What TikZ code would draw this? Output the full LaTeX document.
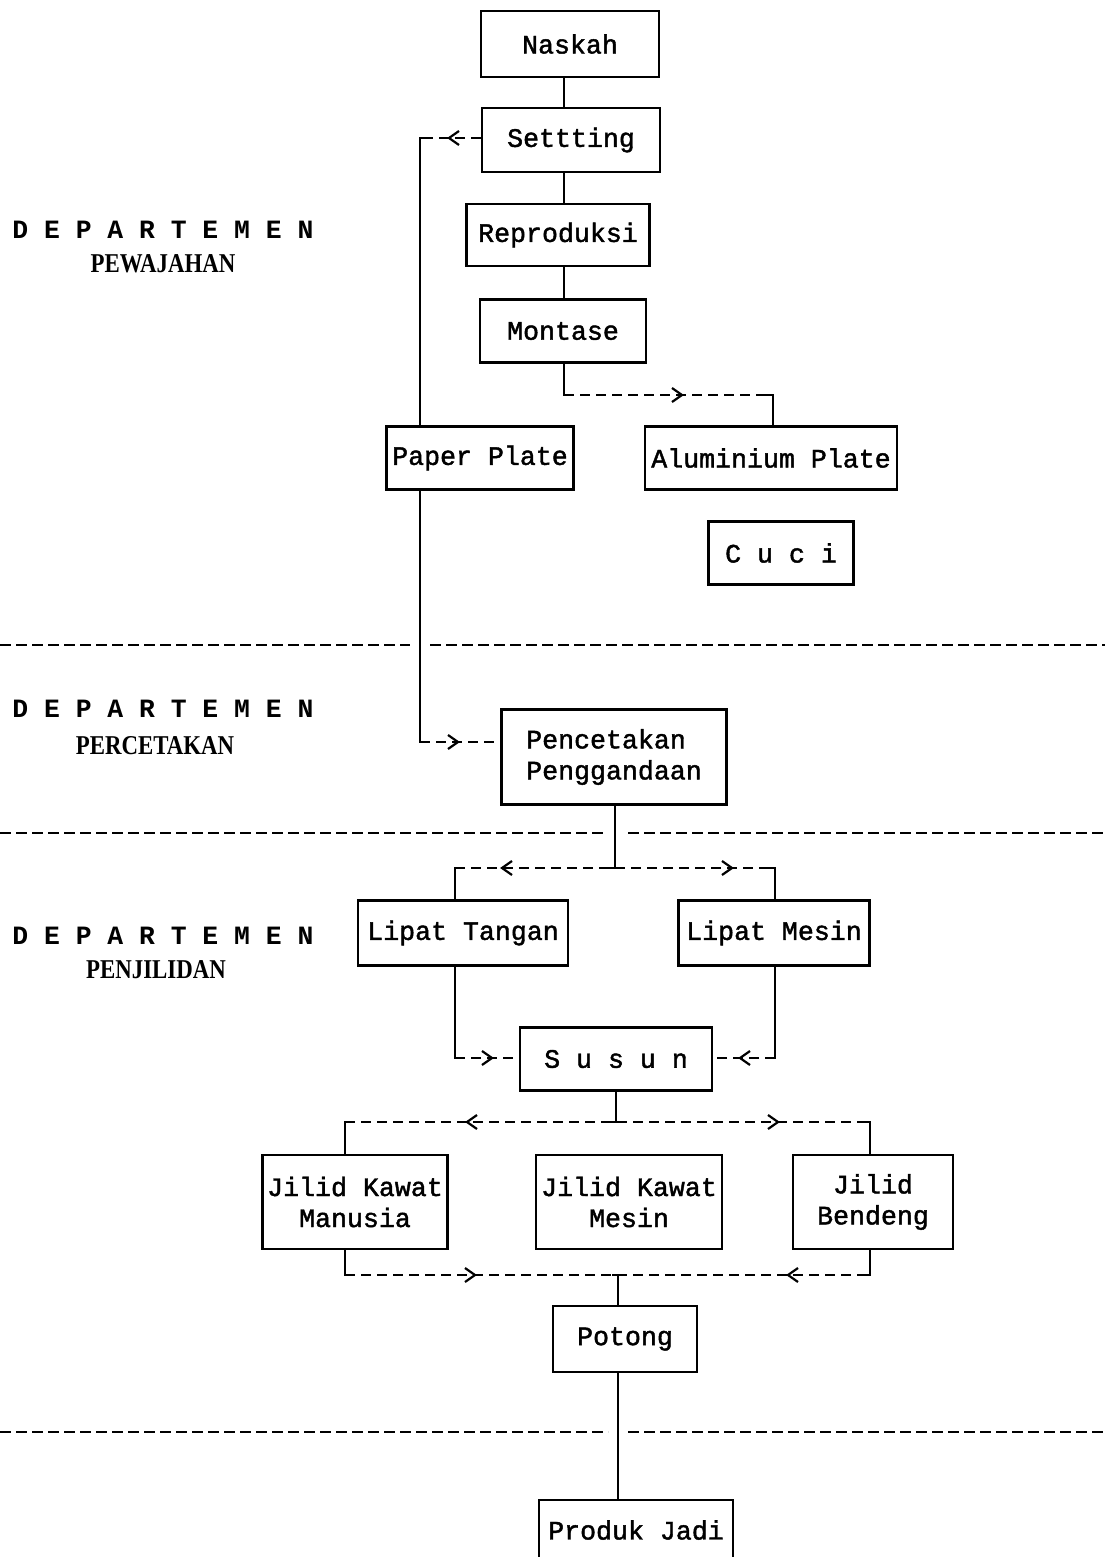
\documentclass[tikz,border=0pt]{standalone}
\usepackage{fontspec}
\newfontfamily\twfont{Liberation Mono}[FakeBold=1.6]
\newfontfamily\dpmono{Liberation Mono}
\newfontfamily\deptfont{Liberation Serif}[FakeStretch=0.84]
\newcommand\bxfont{\twfont\fontsize{13.3}{15.5}\selectfont}
\newcommand\dpAfont{\dpmono\bfseries\fontsize{13.2}{15.5}\selectfont}
\newcommand\dpBfont{\deptfont\bfseries\fontsize{13.6}{15.5}\selectfont}
\begin{document}
\begin{tikzpicture}[x=0.5pt,y=-0.5pt,
  box/.style={draw, line width=1.1pt, inner sep=0pt, align=center, font=\bxfont},
  conn/.style={line width=1pt},
  dconn/.style={line width=1pt, dash pattern=on 5pt off 3pt},
  sepline/.style={line width=1pt, dash pattern=on 5.5pt off 2.5pt},
  chevR/.pic={\draw[line width=1.1pt, solid] (-5,-7) -- (5,0) -- (-5,7);},
  chevL/.pic={\draw[line width=1.1pt, solid] (5,-7) -- (-5,0) -- (5,7);}
]
\useasboundingbox (0,0) rectangle (1105,1557);
\clip (0,0) rectangle (1105,1557);

% department labels
\node[anchor=west, font=\dpAfont, inner sep=0pt] (d1a) at (12,230) {D E P A R T E M E N};
\node[font=\dpBfont, inner sep=0pt] (d1b) at (163,264) {PEWAJAHAN};
\node[anchor=west, font=\dpAfont, inner sep=0pt] (d2a) at (12,709) {D E P A R T E M E N};
\node[font=\dpBfont, inner sep=0pt] (d2b) at (155,746) {PERCETAKAN};
\node[anchor=west, font=\dpAfont, inner sep=0pt] (d3a) at (12,936) {D E P A R T E M E N};
\node[font=\dpBfont, inner sep=0pt] (d3b) at (156,970) {PENJILIDAN};

% boxes
\node[box, minimum width=89pt, minimum height=33pt] (naskah) at (570,44) {Naskah};
\node[box, minimum width=89pt, minimum height=32pt] (setting) at (571,140) {Settting};
\node[box, minimum width=91.5pt, minimum height=31pt] (repro) at (558,235) {Reproduksi};
\node[box, minimum width=83pt, minimum height=31.5pt] (montase) at (563,331) {Montase};
\node[box, minimum width=93.5pt, minimum height=31.5pt] (paper) at (480,458) {Paper Plate};
\node[box, minimum width=126pt, minimum height=31.5pt] (alu) at (771,458) {Aluminium Plate};
\node[box, minimum width=72.5pt, minimum height=31.5pt] (cuci) at (781,553) {C u c i};
\node[box, minimum width=112.5pt, minimum height=47.5pt, align=left] (pence) at (614,757) {Pencetakan\\Penggandaan};
\node[box, minimum width=105pt, minimum height=32.5pt] (ltangan) at (463,933) {Lipat Tangan};
\node[box, minimum width=95.5pt, minimum height=32.5pt] (lmesin) at (774,933) {Lipat Mesin};
\node[box, minimum width=96pt, minimum height=31.5pt] (susun) at (616,1059) {S u s u n};
\node[box, minimum width=92.5pt, minimum height=47pt] (jkman) at (355,1202) {Jilid Kawat\\Manusia};
\node[box, minimum width=93pt, minimum height=47pt] (jkmes) at (629,1202) {Jilid Kawat\\Mesin};
\node[box, minimum width=80pt, minimum height=47pt] (jbend) at (873,1202) {Jilid\\Bendeng};
\node[box, minimum width=72pt, minimum height=33pt] (potong) at (625,1339) {Potong};
\node[box, minimum width=97pt, minimum height=30pt] (produk) at (636,1530) {Produk Jadi};

% helper coordinates
\coordinate (spine) at (564,0);
\coordinate (fb) at (420,138);
\coordinate (pin) at (420,742);
\coordinate (m1) at (564,395);
\coordinate (m2) at (773,395);
\coordinate (s1) at (615,868);
\coordinate (s1l) at (455,868);
\coordinate (s1r) at (775,868);
\coordinate (j1) at (455,1058);
\coordinate (j2) at (775,1058);
\coordinate (s2) at (616,1122);
\coordinate (s2l) at (345,1122);
\coordinate (s2r) at (870,1122);
\coordinate (m3) at (618,1275);
\coordinate (m3l) at (345,1275);
\coordinate (m3r) at (870,1275);

% main spine
\draw[conn] (naskah.south -| spine) -- (setting.north -| spine);
\draw[conn] (setting.south -| spine) -- (repro.north -| spine);
\draw[conn] (repro.south -| spine) -- (montase.north -| spine);

% Settting -> Paper Plate
\draw[dconn] (setting.west |- fb) -- (fb);
\pic at (454,138) {chevL};
\draw[conn] ([xshift=4pt]fb) -- (fb) -- (paper.north -| fb);

% Paper Plate -> Pencetakan
\draw[conn] (paper.south -| pin) -- (pin) -- ([xshift=4pt]pin);
\draw[dconn] (pin) -- (pence.west |- pin);
\pic at (453,742) {chevR};

% Montase -> Aluminium Plate
\draw[conn] (montase.south -| m1) -- (m1) -- ([xshift=4pt]m1);
\draw[dconn] (m1) -- (m2);
\pic at (677,395) {chevR};
\draw[conn] ([xshift=-4pt]m2) -- (m2) -- (alu.north -| m2);

% Pencetakan -> Lipat
\draw[conn] (pence.south -| s1) -- (s1);
\draw[conn] ([xshift=-3pt]s1) -- ([xshift=3pt]s1);
\draw[dconn] (s1l) -- (s1r);
\pic at (507,868) {chevL};
\pic at (727,868) {chevR};
\draw[conn] ([xshift=4pt]s1l) -- (s1l) -- (ltangan.north -| s1l);
\draw[conn] ([xshift=-4pt]s1r) -- (s1r) -- (lmesin.north -| s1r);

% Lipat -> Susun
\draw[conn] (ltangan.south -| j1) -- (j1) -- ([xshift=4pt]j1);
\draw[dconn] (j1) -- (susun.west |- j1);
\pic at (487,1058) {chevR};
\draw[conn] (lmesin.south -| j2) -- (j2) -- ([xshift=-4pt]j2);
\draw[dconn] (j2) -- (susun.east |- j2);
\pic at (745,1058) {chevL};

% Susun -> Jilid
\draw[conn] (susun.south -| s2) -- (s2);
\draw[conn] ([xshift=-3pt]s2) -- ([xshift=3pt]s2);
\draw[dconn] (s2l) -- (s2r);
\pic at (472,1122) {chevL};
\pic at (773,1122) {chevR};
\draw[conn] ([xshift=4pt]s2l) -- (s2l) -- (jkman.north -| s2l);
\draw[conn] ([xshift=-4pt]s2r) -- (s2r) -- (jbend.north -| s2r);

% Jilid -> Potong
\draw[conn] (jkman.south -| m3l) -- (m3l) -- ([xshift=4pt]m3l);
\draw[conn] (jbend.south -| m3r) -- (m3r) -- ([xshift=-4pt]m3r);
\draw[dconn] (m3l) -- (m3r);
\pic at (470,1275) {chevR};
\draw[conn] ([xshift=-3pt]m3) -- ([xshift=3pt]m3);
\pic at (793,1275) {chevL};
\draw[conn] (m3) -- (potong.north -| m3);

% Potong -> Produk Jadi
\draw[conn] (potong.south -| m3) -- (produk.north -| m3);

% department separators
\draw[sepline] (0,645) -- (410,645);
\draw[sepline] (430,645) -- (1105,645);
\draw[sepline] (0,833) -- (605,833);
\draw[sepline] (628,833) -- (1105,833);
\draw[sepline] (0,1432) -- (608,1432);
\draw[sepline] (628,1432) -- (1105,1432);
\end{tikzpicture}
\end{document}
